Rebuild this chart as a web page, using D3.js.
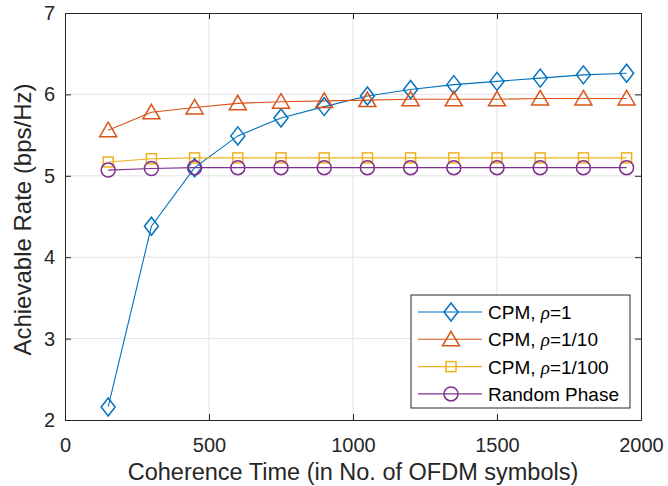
<!DOCTYPE html>
<html>
<head>
<meta charset="utf-8">
<script src="https://cdn.jsdelivr.net/npm/d3@7"></script>
<style>
  body { margin: 0; background: #fff; }
  text { font-family: "Liberation Sans", Arial, sans-serif; }
</style>
</head>
<body>
<div id="chart"></div>
<script>
// data
let coherenceTime = [150, 300, 450, 600, 750, 900, 1050, 1200, 1350, 1500, 1650, 1800, 1950];
let cpmRho1 = [2.16, 4.38, 5.10, 5.49, 5.71, 5.85, 5.98, 6.06, 6.12, 6.16, 6.20, 6.24, 6.26];
let cpmRho10 = [5.56, 5.78, 5.84, 5.89, 5.91, 5.92, 5.93, 5.94, 5.94, 5.94, 5.95, 5.95, 5.95];
let cpmRho100 = [5.17, 5.21, 5.22, 5.22, 5.22, 5.22, 5.22, 5.22, 5.22, 5.22, 5.22, 5.22, 5.22];
let randomPhase = [5.07, 5.09, 5.10, 5.10, 5.10, 5.10, 5.10, 5.10, 5.10, 5.10, 5.10, 5.10, 5.10];
let xTicks = [0, 500, 1000, 1500, 2000];
let yTicks = [2, 3, 4, 5, 6, 7];

let series = [
    { name: "CPM, ", rho: "1", values: cpmRho1, color: "#0072BD", marker: "diamond" },
    { name: "CPM, ", rho: "1/10", values: cpmRho10, color: "#D95319", marker: "triangle" },
    { name: "CPM, ", rho: "1/100", values: cpmRho100, color: "#EDB120", marker: "square" },
    { name: "Random Phase", rho: null, values: randomPhase, color: "#7E2F8E", marker: "circle" }
];

let svgWidth = 668;
let svgHeight = 486;
let margin = { top: 13, right: 27, bottom: 66, left: 65 };
let width = svgWidth - margin.left - margin.right;
let height = svgHeight - margin.top - margin.bottom;

let svg = d3.select("#chart")
    .append("svg")
    .attr("width", svgWidth)
    .attr("height", svgHeight);

let chartGroup = svg.append("g")
    .attr("transform", `translate(${margin.left}, ${margin.top})`);

let x = d3.scaleLinear().domain([0, 2000]).range([0, width]);
let y = d3.scaleLinear().domain([2, 7]).range([height, 0]);

// grid
chartGroup.append("g").selectAll("line")
    .data(xTicks.slice(1, -1)).enter().append("line")
    .attr("x1", d => x(d)).attr("x2", d => x(d))
    .attr("y1", 0).attr("y2", height)
    .attr("stroke", "#e3e3e3").attr("stroke-width", 1);
chartGroup.append("g").selectAll("line")
    .data(yTicks.slice(1, -1)).enter().append("line")
    .attr("y1", d => y(d)).attr("y2", d => y(d))
    .attr("x1", 0).attr("x2", width)
    .attr("stroke", "#e3e3e3").attr("stroke-width", 1);

// axes (ticks inside, MATLAB style)
let axisColor = "#262626";
function styleAxis(g, hideText) {
    g.select(".domain").attr("stroke", axisColor);
    g.selectAll(".tick line").attr("stroke", axisColor);
    g.selectAll(".tick text")
        .attr("fill", axisColor)
        .style("font-size", "20px")
        .style("font-family", "'Liberation Sans', Arial, sans-serif");
    if (hideText) g.selectAll(".tick text").remove();
}

chartGroup.append("g")
    .attr("transform", `translate(0, ${height})`)
    .call(d3.axisBottom(x).tickValues(xTicks).tickFormat(d3.format("d")).tickSize(-6).tickSizeOuter(0).tickPadding(18))
    .call(g => styleAxis(g, false));
chartGroup.append("g")
    .call(d3.axisTop(x).tickValues(xTicks).tickSize(-6).tickSizeOuter(0))
    .call(g => styleAxis(g, true));
chartGroup.append("g")
    .call(d3.axisLeft(y).tickValues(yTicks).tickFormat(d3.format("d")).tickSize(-6).tickSizeOuter(0).tickPadding(10))
    .call(g => styleAxis(g, false));
chartGroup.append("g")
    .attr("transform", `translate(${width}, 0)`)
    .call(d3.axisRight(y).tickValues(yTicks).tickSize(-6).tickSizeOuter(0))
    .call(g => styleAxis(g, true));

// markers
function drawMarker(sel, type, color) {
    if (type === "diamond") {
        sel.append("path").attr("d", "M0,-9L7,0L0,9L-7,0Z");
    } else if (type === "triangle") {
        sel.append("path").attr("d", "M0,-8L8.5,6.5L-8.5,6.5Z");
    } else if (type === "square") {
        sel.append("rect").attr("x", -5).attr("y", -5).attr("width", 10).attr("height", 10);
    } else {
        sel.append("circle").attr("r", 7);
    }
    sel.selectAll("*")
        .attr("fill", "none")
        .attr("stroke", color)
        .attr("stroke-width", 1.5);
}

let line = d3.line()
    .x((d, i) => x(coherenceTime[i]))
    .y(d => y(d));

series.forEach(s => {
    chartGroup.append("path")
        .datum(s.values)
        .attr("d", line)
        .attr("fill", "none")
        .attr("stroke", s.color)
        .attr("stroke-width", 1.1);
});

series.forEach(s => {
    let nodes = chartGroup.selectAll(".m-" + s.marker)
        .data(s.values).enter().append("g")
        .attr("class", "m-" + s.marker)
        .attr("transform", (d, i) => `translate(${x(coherenceTime[i])}, ${y(d)})`);
    nodes.each(function() { drawMarker(d3.select(this), s.marker, s.color); });
});

// axis labels
svg.append("text")
    .attr("transform", `translate(31, ${margin.top + height / 2 + 3}) rotate(-90)`)
    .attr("text-anchor", "middle")
    .attr("fill", axisColor)
    .style("font-size", "24px")
    .text("Achievable Rate (bps/Hz)");

svg.append("text")
    .attr("x", margin.left + width / 2)
    .attr("y", 480)
    .attr("text-anchor", "middle")
    .attr("fill", axisColor)
    .style("font-size", "23.5px")
    .text("Coherence Time (in No. of OFDM symbols)");

// legend
let legend = svg.append("g").attr("transform", "translate(411, 295)");
legend.append("rect")
    .attr("width", 219).attr("height", 113)
    .attr("fill", "#fff")
    .attr("stroke", axisColor)
    .attr("stroke-width", 1);

series.forEach((s, i) => {
    let row = legend.append("g").attr("transform", `translate(0, ${17 + i * 27.3})`);
    row.append("line")
        .attr("x1", 7).attr("x2", 71)
        .attr("stroke", s.color).attr("stroke-width", 1.1);
    let mk = row.append("g").attr("transform", "translate(40, 0)");
    drawMarker(mk, s.marker, s.color);
    let t = row.append("text")
        .attr("x", 77).attr("y", 7)
        .attr("fill", "#000")
        .style("font-size", "19px")
        .text(s.name);
    if (s.rho) {
        t.append("tspan")
            .style("font-family", "'Liberation Serif', 'DejaVu Serif', serif")
            .style("font-style", "italic")
            .text("\u03C1");
        t.append("tspan").text("=" + s.rho);
    }
});
</script>
</body>
</html>
